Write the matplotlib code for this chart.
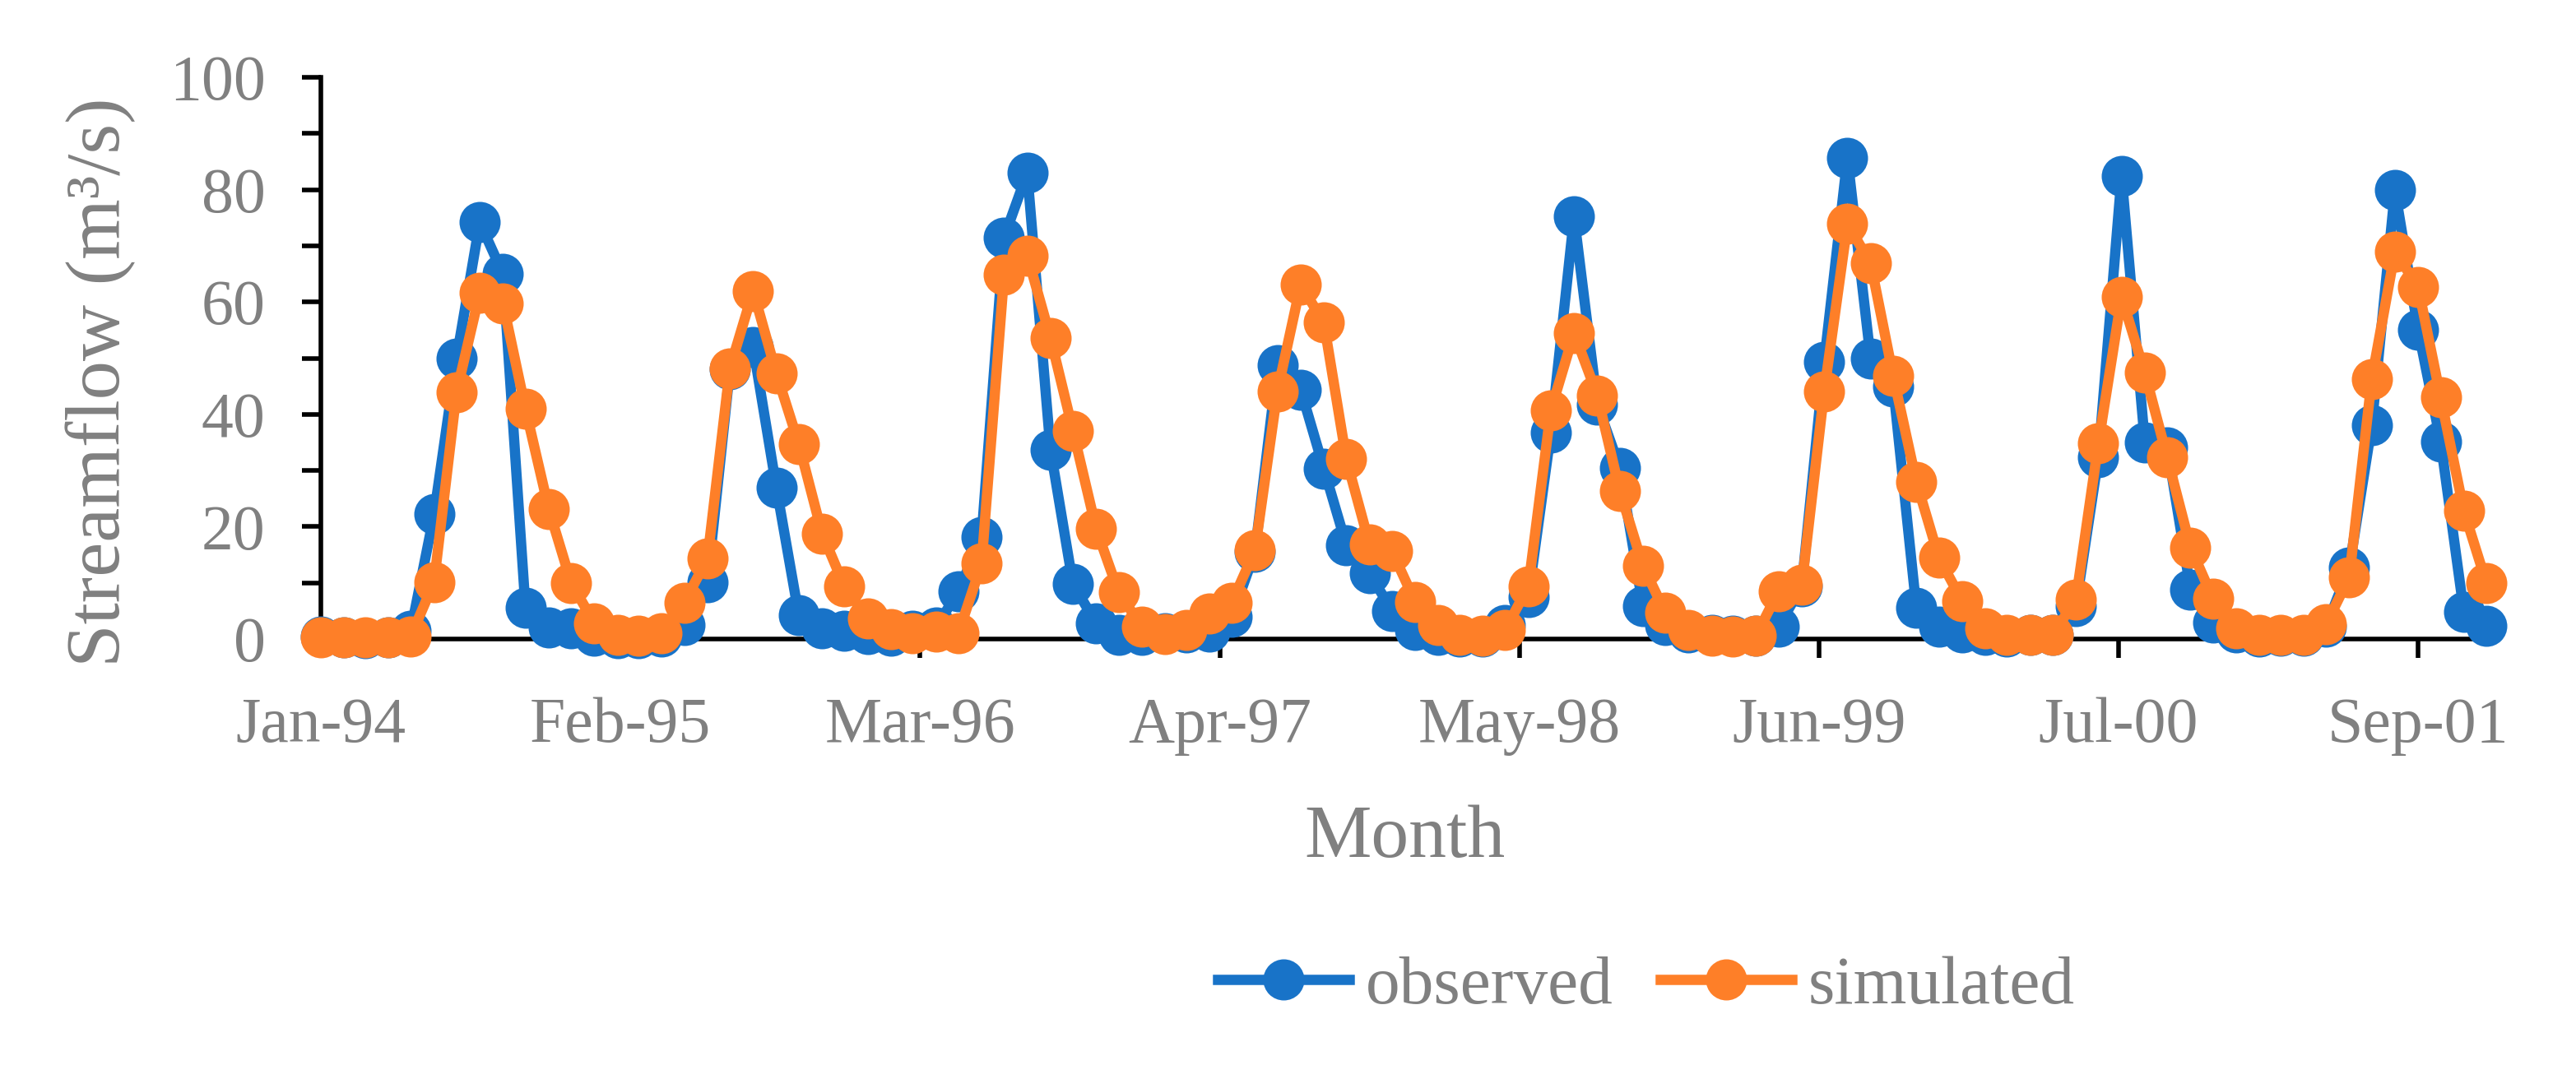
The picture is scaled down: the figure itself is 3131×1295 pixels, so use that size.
import pandas as pd
import numpy as np
import matplotlib
matplotlib.use('Agg')
import matplotlib.pyplot as plt
import matplotlib.dates as mdates
from matplotlib.ticker import MultipleLocator, FixedLocator

# monthly streamflow, Jan 1994 - Dec 2001 (m3/s)
months = pd.date_range('1994-01-01', periods=96, freq='MS')

observed = [0.5, 0.3, 0.2, 0.3, 1.5, 22.2, 50.0, 74.2, 65.0, 5.6, 2.0, 1.9,
            0.6, 0.1, 0.1, 0.5, 2.5, 10.1, 48.0, 52.0, 27.0, 4.2, 1.9, 1.4,
            0.9, 0.6, 1.5, 2.0, 8.5, 18.2, 71.5, 83.0, 33.7, 9.8, 2.8, 0.8,
            0.8, 1.0, 1.2, 1.3, 3.9, 15.5, 48.8, 44.4, 30.3, 16.7, 11.7, 5.0,
            1.6, 0.7, 0.4, 0.4, 2.5, 7.5, 36.7, 75.2, 41.8, 30.5, 5.8, 2.5,
            1.2, 0.8, 0.6, 0.6, 2.2, 9.4, 49.4, 85.7, 49.9, 45.0, 5.5, 2.2,
            1.2, 0.8, 0.5, 0.8, 0.7, 5.8, 32.3, 82.5, 35.0, 34.1, 8.8, 2.9,
            1.2, 0.5, 0.6, 0.6, 2.2, 12.7, 38.0, 79.9, 55.0, 35.1, 4.8, 2.4]

simulated = [0.3, 0.3, 0.3, 0.3, 0.5, 10.1, 43.9, 61.6, 59.8, 41.0, 23.2, 10.0,
             2.8, 0.8, 0.6, 1.0, 6.5, 14.3, 48.2, 62.0, 47.3, 34.7, 18.8, 9.3,
             3.6, 1.7, 1.0, 1.3, 1.0, 13.4, 64.8, 68.3, 53.6, 37.1, 19.6, 8.3,
             2.2, 0.9, 1.6, 4.5, 6.5, 15.8, 44.1, 63.1, 56.3, 32.0, 16.8, 15.6,
             6.6, 2.5, 0.8, 0.6, 1.6, 9.4, 40.7, 54.5, 43.4, 26.4, 13.0, 4.7,
             1.6, 0.6, 0.5, 0.6, 8.5, 9.6, 44.1, 73.9, 66.9, 46.9, 28.0, 14.5,
             6.8, 1.9, 0.8, 0.8, 0.8, 7.0, 34.8, 60.9, 47.4, 32.3, 16.3, 7.2,
             1.9, 0.7, 0.7, 0.8, 2.6, 11.0, 46.3, 69.0, 62.6, 43.0, 22.8, 10.0]

# date axis: one major tick every 400 days, as in the spreadsheet original
tick_dates = pd.Timestamp('1994-01-01') + pd.to_timedelta(np.arange(8) * 400, unit='D')

grey = '#808080'
blue = '#1873C8'
orange = '#FE7F28'

plt.rcParams['font.family'] = ['Liberation Serif', 'DejaVu Serif']

fig = plt.figure(figsize=(31.31, 12.95), dpi=100)
ax = fig.add_axes([0.1246, 0.40, 0.8345, 0.5274])

ax.plot(months, observed, color=blue, lw=9, marker='o', ms=36, mew=0,
        label='observed', clip_on=False, zorder=3)
ax.plot(months, simulated, color=orange, lw=9, marker='o', ms=36, mew=0,
        label='simulated', clip_on=False, zorder=4)

x0 = mdates.date2num(pd.Timestamp('1994-01-01'))
ax.set_xlim(x0, x0 + 2870)
ax.set_ylim(0, 100)

ax.xaxis.set_major_locator(FixedLocator(mdates.date2num(tick_dates)))
ax.xaxis.set_major_formatter(mdates.DateFormatter('%b-%y'))
ax.yaxis.set_major_locator(MultipleLocator(20))
ax.yaxis.set_minor_locator(MultipleLocator(10))

for side in ['top', 'right']:
    ax.spines[side].set_visible(False)
for side in ['left', 'bottom']:
    ax.spines[side].set_linewidth(4)
    ax.spines[side].set_color('black')

ax.tick_params(axis='both', which='both', direction='out', length=16.5,
               width=4, color='black', labelcolor=grey, labelsize=56)
ax.tick_params(axis='x', pad=34)
ax.tick_params(axis='y', pad=32)

fig.text(122 / 3131, 1 - 465 / 1295, 'Streamflow (m³/s)', rotation=90,
         ha='center', va='center', fontsize=68, color=grey)
fig.text(1708 / 3131, 1 - 1020 / 1295, 'Month', ha='center', va='center',
         fontsize=66, color=grey)

leg = fig.legend(loc='center', bbox_to_anchor=(2001 / 3131, 1 - 1200 / 1295),
                 ncol=2, frameon=False, fontsize=60, handlelength=1.92,
                 handletextpad=0.24, columnspacing=0.68)
for t in leg.get_texts():
    t.set_color(grey)

fig.savefig('out.png', dpi=100, facecolor='white')
